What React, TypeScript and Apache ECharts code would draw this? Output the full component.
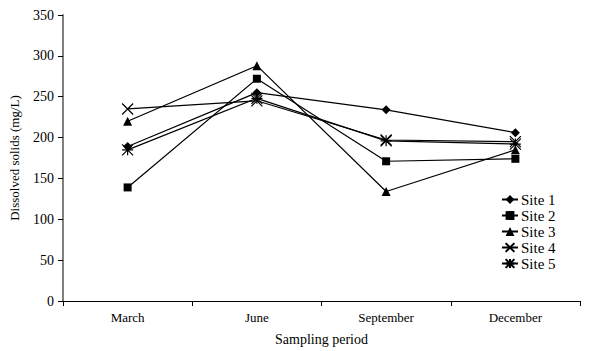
import React, { useEffect, useRef } from "react";
import * as echarts from "echarts";

const categories = ["March", "June", "September", "December"];
const site1 = [189, 255, 234, 206];
const site2 = [139, 272, 171, 174];
const site3 = [220, 288, 134, 185];
const site4 = [235, 245, 197, 195];
const site5 = [185, 248, 196, 192];
const seriesNames = ["Site 1", "Site 2", "Site 3", "Site 4", "Site 5"];

const FONT = "Liberation Serif";

export default function App() {
  const ref = useRef<HTMLDivElement>(null);
  useEffect(() => {
    const chart = echarts.init(ref.current!, null, { renderer: "svg" });
    const data = [site1, site2, site3, site4, site5];
    const symbols = [
      "diamond",
      "rect",
      "triangle",
      "path://M0,0L10,10M10,0L0,10",
      "path://M0,0L10,10M10,0L0,10M5,0L5,10M0,5L10,5",
    ];
    const sizes = [9, 8, 9, 11, 11];
    const series = data.map((d, i) => ({
      name: seriesNames[i],
      type: "line",
      data: d,
      symbol: symbols[i],
      symbolSize: sizes[i],
      lineStyle: { color: "#000", width: 1.2 },
      itemStyle:
        i >= 3
          ? { color: "#000", borderColor: "#000", borderWidth: 1.2 }
          : { color: "#000", borderWidth: 0 },
    }));
    chart.setOption({
      animation: false,
      backgroundColor: "#fff",
      textStyle: { fontFamily: FONT },
      grid: { left: 62, right: 10, top: 15, bottom: 45 },
      legend: {
        orient: "vertical",
        left: 501,
        top: 192,
        padding: 0,
        itemWidth: 16,
        itemHeight: 11,
        itemGap: 1,
        data: seriesNames,
        textStyle: { fontFamily: FONT, fontSize: 15, color: "#000", padding: [0, 0, 0, -2] },
      },
      xAxis: {
        type: "category",
        data: categories,
        boundaryGap: true,
        name: "Sampling period",
        nameLocation: "middle",
        nameGap: 31,
        nameTextStyle: { fontFamily: FONT, fontSize: 14, color: "#000" },
        axisLine: { lineStyle: { color: "#000", width: 1 } },
        axisTick: { show: true, alignWithLabel: false, length: 5, lineStyle: { color: "#000" } },
        axisLabel: { fontFamily: FONT, fontSize: 13, color: "#000", margin: 10 },
        splitLine: { show: false },
      },
      yAxis: {
        type: "value",
        min: 0,
        max: 350,
        interval: 50,
        name: "Dissolved solids (mg/L)",
        nameLocation: "middle",
        nameGap: 42,
        nameTextStyle: { fontFamily: FONT, fontSize: 13, color: "#000" },
        axisLine: { show: true, lineStyle: { color: "#808080", width: 2 } },
        axisTick: { show: true, length: 5, lineStyle: { color: "#000" } },
        axisLabel: { fontFamily: FONT, fontSize: 14, color: "#000", margin: 9 },
        splitLine: { show: false },
      },
      series,
    });
    return () => chart.dispose();
  }, []);
  return <div ref={ref} style={{ width: 590, height: 351, position: "absolute", left: 0, top: 0 }} />;
}
